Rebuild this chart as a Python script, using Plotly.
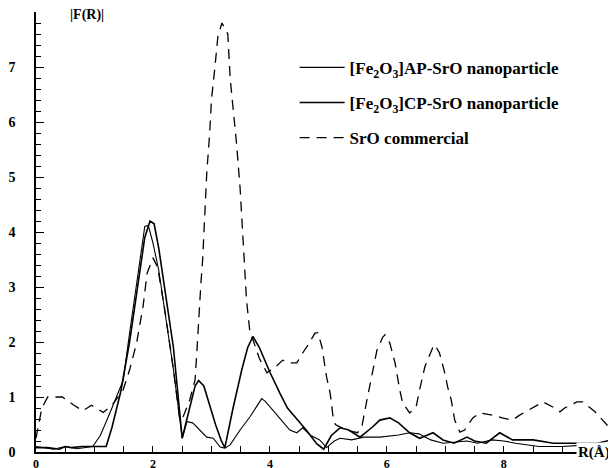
import plotly.graph_objects as go

# SrO commercial (dashed)
r_sro = [0.0, 0.1, 0.2, 0.45, 0.65, 0.8, 0.95, 1.15, 1.3, 1.49, 1.6, 1.72, 1.83, 1.9, 2.0, 2.08,
         2.2, 2.35, 2.46, 2.52, 2.63, 2.72, 2.75, 2.78, 2.82, 2.85, 2.88, 2.92, 2.97, 3.0, 3.06,
         3.11, 3.18, 3.28, 3.32, 3.37, 3.43, 3.49, 3.52, 3.57, 3.6, 3.66, 3.71, 3.82, 3.95, 4.1,
         4.22, 4.35, 4.46, 4.56, 4.63, 4.77, 4.82, 4.89, 4.97, 5.03, 5.08, 5.12, 5.3, 5.5, 5.57,
         5.66, 5.74, 5.83, 5.93, 5.97, 6.05, 6.14, 6.22, 6.27, 6.39, 6.5, 6.56, 6.65, 6.79, 6.82,
         6.9, 6.99, 7.04, 7.1, 7.16, 7.25, 7.33, 7.47, 7.59, 7.81, 7.97, 8.15, 8.27, 8.56, 8.67,
         8.87, 8.96, 9.04, 9.25, 9.35, 9.56, 9.69, 9.81, 9.86]
f_sro = [0.25, 0.8, 1.0, 1.0, 0.85, 0.75, 0.85, 0.72, 0.85, 1.13, 1.49, 1.98, 2.64, 3.25, 3.53, 3.36,
         2.6, 1.5, 0.58, 0.65, 0.95, 1.31, 1.8, 2.45, 3.07, 3.5, 4.2, 5.07, 5.8, 6.4, 7.0,
         7.55, 7.8, 7.6, 6.8, 6.27, 5.6, 4.8, 4.27, 3.44, 2.76, 2.16, 2.04, 1.7, 1.44, 1.55,
         1.67, 1.62, 1.62, 1.8, 1.91, 2.16, 2.17, 1.91, 1.36, 1.07, 0.64, 0.5, 0.4, 0.35, 0.45,
         0.95, 1.36, 1.85, 2.09, 2.13, 1.98, 1.62, 1.13, 0.89, 0.71, 0.82, 1.13, 1.55, 1.91, 1.95,
         1.8, 1.44, 1.18, 0.95, 0.58, 0.36, 0.4, 0.62, 0.71, 0.67, 0.62, 0.58, 0.67, 0.85, 0.91,
         0.8, 0.73, 0.8, 0.91, 0.91, 0.73, 0.58, 0.44, 0.31]

# [Fe2O3]CP-SrO nanoparticle
r_cp = [0.0, 0.2, 0.4, 0.5, 0.6, 0.8, 1.0, 1.2, 1.3, 1.45, 1.6, 1.74, 1.86, 1.95, 2.02, 2.1,
        2.2, 2.35, 2.5, 2.62, 2.72, 2.78, 2.87, 2.97, 3.07, 3.17, 3.23, 3.37, 3.52, 3.62, 3.71,
        3.82, 4.0, 4.17, 4.3, 4.46, 4.62, 4.8, 4.92, 5.05, 5.2, 5.35, 5.54, 5.75, 5.88, 6.05,
        6.2, 6.39, 6.56, 6.79, 6.96, 7.15, 7.37, 7.5, 7.7, 7.93, 8.15, 8.5, 8.85, 9.2, 9.6, 9.85]
f_cp = [0.08, 0.08, 0.05, 0.1, 0.08, 0.1, 0.1, 0.1, 0.45, 1.1, 2.0, 3.0, 3.9, 4.2, 4.15, 3.7,
        3.0, 1.9, 0.25, 0.8, 1.2, 1.3, 1.2, 0.85, 0.5, 0.2, 0.08, 0.8, 1.5, 1.9, 2.1,
        1.9, 1.45, 1.07, 0.8, 0.6, 0.4, 0.15, 0.05, 0.3, 0.44, 0.4, 0.27, 0.45, 0.58, 0.62,
        0.53, 0.35, 0.25, 0.35, 0.22, 0.16, 0.27, 0.2, 0.16, 0.35, 0.22, 0.22, 0.16, 0.16, 0.16, 0.22]

# [Fe2O3]AP-SrO nanoparticle
r_ap = [0.0, 0.3, 0.5, 0.7, 0.97, 1.1, 1.26, 1.49, 1.6, 1.72, 1.86, 1.92, 2.0, 2.1, 2.2, 2.35,
        2.5, 2.58, 2.68, 2.8, 2.92, 3.03, 3.15, 3.23, 3.32, 3.49, 3.66, 3.86, 3.92, 4.05, 4.22,
        4.34, 4.46, 4.56, 4.7, 4.85, 4.97, 5.1, 5.2, 5.4, 5.6, 5.88, 6.2, 6.39, 6.55, 6.75,
        6.96, 7.37, 7.55, 7.8, 8.0, 8.2, 8.6, 9.0, 9.3, 9.6, 9.85]
f_ap = [0.1, 0.05, 0.1, 0.06, 0.1, 0.3, 0.7, 1.3, 2.16, 3.07, 4.1, 4.12, 3.8, 3.3, 2.6, 1.5,
        0.25, 0.55, 0.53, 0.4, 0.27, 0.25, 0.09, 0.07, 0.13, 0.4, 0.64, 0.97, 0.92, 0.76, 0.55,
        0.4, 0.35, 0.44, 0.3, 0.22, 0.08, 0.2, 0.25, 0.22, 0.27, 0.27, 0.31, 0.35, 0.33, 0.22,
        0.16, 0.2, 0.16, 0.22, 0.2, 0.16, 0.1, 0.1, 0.12, 0.1, 0.15]

y_ticks = [0, 1, 2, 3, 4, 5, 6, 7, 8]
y_ticktext = ["0", "1", "2", "3", "4", "5", "6", "7", ""]
x_ticks = [0, 2, 4, 6, 8]

FONT = "Liberation Serif"

fig = go.Figure()
fig.add_trace(go.Scatter(x=r_ap, y=f_ap, mode="lines", name="[Fe<sub>2</sub>O<sub>3</sub>]AP-SrO nanoparticle",
                         line=dict(color="black", width=1.1), legendgroup="a"))
fig.add_trace(go.Scatter(x=r_cp, y=f_cp, mode="lines", name="[Fe<sub>2</sub>O<sub>3</sub>]CP-SrO nanoparticle",
                         line=dict(color="black", width=1.6), legendgroup="b"))
fig.add_trace(go.Scatter(x=r_sro, y=f_sro, mode="lines", name="SrO commercial",
                         line=dict(color="black", width=1.3, dash="10px,7px"), legendgroup="c"))

# the page body has an 8px margin, so the figure is sized to fit the window
fig.update_layout(
    width=608, height=460,
    margin=dict(l=28, r=4, t=4, b=16, autoexpand=False),
    paper_bgcolor="white", plot_bgcolor="white",
    font=dict(family=FONT, color="black", size=13),
    legend=dict(x=0.449, y=0.914, xanchor="left", yanchor="top", bgcolor="rgba(0,0,0,0)",
                font=dict(family=FONT, size=17, weight="bold"), tracegroupgap=10,
                itemwidth=45),
    xaxis=dict(range=[0, 9.85], showgrid=False, zeroline=False, showline=True, linecolor="black",
               linewidth=1.5, ticks="inside", ticklen=6, tickcolor="black", tickvals=x_ticks,
               automargin=False, ticklabelstandoff=0,
               tickfont=dict(family=FONT, size=12, weight="bold"),
               minor=dict(dtick=0.5, ticks="inside", ticklen=6, tickcolor="black")),
    yaxis=dict(range=[0, 8], showgrid=False, zeroline=False, showline=True, linecolor="black",
               linewidth=1.5, ticks="inside", ticklen=8, tickcolor="black", tickvals=y_ticks,
               ticktext=y_ticktext, ticklabelstandoff=16, automargin=False,
               tickfont=dict(family=FONT, size=14, weight="bold"),
               minor=dict(dtick=0.2, ticks="inside", ticklen=5, tickcolor="black")),
    annotations=[
        dict(text="|F(R)|", x=0.056, y=0.993, xref="paper", yref="paper", xanchor="left",
             yanchor="middle", showarrow=False, font=dict(family=FONT, size=14, weight="bold")),
        dict(text="R(Å)", x=1.0, y=0.0, xref="paper", yref="paper", xanchor="right",
             yanchor="middle", showarrow=False, bgcolor="white",
             font=dict(family=FONT, size=15, weight="bold")),
    ],
)

fig.write_html("out.html")
